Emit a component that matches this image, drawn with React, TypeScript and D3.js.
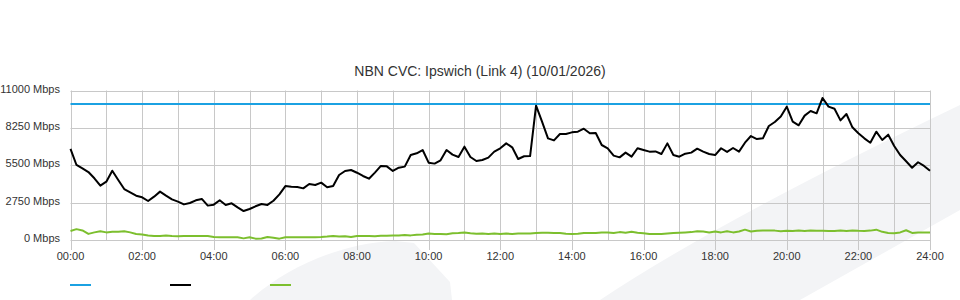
import React from "react";
import * as d3 from "d3";

const title = "NBN CVC: Ipswich (Link 4) (10/01/2026)";
const stepMinutes = 10;
const capacity = 10000;
const yTicks = [0, 2750, 5500, 8250, 11000];
const xTickHours = [0, 2, 4, 6, 8, 10, 12, 14, 16, 18, 20, 22, 24];
const xTickLabels = ["00:00", "02:00", "04:00", "06:00", "08:00", "10:00", "12:00", "14:00", "16:00", "18:00", "20:00", "22:00", "24:00"];
const gridHours = d3.range(0, 25);

const traffic = [
  6700, 5520, 5270, 5000, 4540, 4000, 4290, 5100, 4420, 3750, 3510, 3260,
  3140, 2870, 3190, 3560, 3260, 2990, 2820, 2620, 2720, 2920, 3020, 2530,
  2600, 2920, 2580, 2700, 2400, 2130, 2280, 2480, 2650, 2580, 2890, 3360,
  3970, 3920, 3900, 3800, 4120, 4050, 4220, 3880, 3970, 4780, 5080, 5150,
  4950, 4710, 4510, 4960, 5450, 5420, 5080, 5320, 5400, 6250, 6380, 6620,
  5690, 5620, 5860, 6620, 6280, 6110, 6870, 6110, 5810, 5890, 6060, 6500,
  6750, 7110, 6820, 5960, 6160, 6180, 9880, 8710, 7480, 7330, 7800, 7800,
  7920, 7970, 8190, 7850, 7870, 6990, 6750, 6210, 6080, 6430, 6130, 6750,
  6620, 6500, 6520, 6330, 7110, 6250, 6130, 6350, 6430, 6720, 6500, 6330,
  6250, 6750, 6480, 6770, 6500, 7160, 7650, 7430, 7480, 8390, 8680, 9080,
  9810, 8710, 8440, 9150, 9490, 9320, 10450, 9810, 9660, 8800, 9270, 8290,
  7850, 7480, 7160, 7970, 7360, 7750, 6920, 6250, 5790, 5320, 5720, 5450,
  5100,
];

const upload = [
  660, 800, 700, 450, 560, 640, 560, 600, 600, 640, 560, 440,
  400, 330, 300, 290, 330, 300, 280, 300, 300, 300, 290, 290,
  220, 200, 200, 200, 200, 120, 200, 100, 110, 220, 170, 100,
  200, 200, 200, 200, 200, 200, 220, 250, 300, 250, 280, 220,
  300, 300, 290, 280, 320, 320, 330, 340, 360, 340, 380, 400,
  470, 440, 440, 430, 490, 520, 560, 500, 460, 470, 450, 480,
  440, 470, 450, 470, 480, 480, 520, 540, 530, 520, 520, 460,
  450, 460, 520, 510, 520, 550, 560, 510, 580, 540, 600, 540,
  500, 440, 450, 440, 480, 520, 540, 560, 580, 640, 620, 560,
  620, 560, 640, 560, 620, 760, 620, 680, 700, 690, 690, 640,
  680, 660, 690, 660, 690, 680, 680, 660, 670, 700, 670, 700,
  680, 670, 690, 760, 600, 520, 500, 560, 720, 520, 560, 560,
  560,
];

const legendColors = ["#1ba1e2", "#000000", "#7cbf2e"];

const W = 960;
const H = 300;
const font = "'Liberation Sans', Arial, sans-serif";
const gridColor = "#c8c8c8";
const textColor = "#333";

export default function App() {
  const x = d3.scaleLinear().domain([0, 24]).range([70.5, 930]);
  const y = d3.scaleLinear().domain([0, 11000]).range([240, 90.5]);
  const hourOf = (i: number) => (i * stepMinutes) / 60;

  const line = d3
    .line<number>()
    .x((_, i) => x(hourOf(i)))
    .y((d) => y(d));

  const [x0, x1] = x.range();
  const [yb, yt] = y.range();

  return (
    <svg
      width={W}
      height={H}
      style={{ position: "absolute", left: 0, top: 0, background: "#fff" }}
      fontFamily={font}
    >
      {/* watermark shapes */}
      <path d="M250,300 C285,268 340,243 395,241 L414,243 L450,282 L452,300 Z" fill="#f3f4f6" />
      <path d="M600,300 Q720,220 960,105 L960,210 L800,300 Z" fill="#f3f4f6" />

      <text x={480} y={76} textAnchor="middle" fontSize={14} fill={textColor}>
        {title}
      </text>

      {/* grid */}
      {yTicks.map((t) => (
        <line key={"h" + t} x1={x0} x2={x1} y1={Math.round(y(t)) + 0.5} y2={Math.round(y(t)) + 0.5} stroke={gridColor} strokeWidth={1} />
      ))}
      {gridHours.map((h) => (
        <line key={"v" + h} x1={Math.round(x(h)) + 0.5} x2={Math.round(x(h)) + 0.5} y1={yt} y2={yb} stroke={gridColor} strokeWidth={1} />
      ))}
      {xTickHours.map((h) => (
        <line key={"t" + h} x1={Math.round(x(h)) + 0.5} x2={Math.round(x(h)) + 0.5} y1={yb} y2={yb + 10} stroke={gridColor} strokeWidth={1} />
      ))}

      {/* y labels */}
      {yTicks.map((t) => (
        <text key={"yl" + t} x={60} y={y(t) + 2} textAnchor="end" fontSize={11} fill={textColor}>
          {t + " Mbps"}
        </text>
      ))}
      {/* x labels */}
      {xTickHours.map((h, i) => (
        <text key={"xl" + h} x={x(h)} y={260} textAnchor="middle" fontSize={11} fill={textColor}>
          {xTickLabels[i]}
        </text>
      ))}

      {/* series */}
      <line x1={x0} x2={x1} y1={y(capacity)} y2={y(capacity)} stroke={legendColors[0]} strokeWidth={2} />
      <path d={line(upload) || ""} fill="none" stroke={legendColors[2]} strokeWidth={2} strokeLinejoin="round" />
      <path d={line(traffic) || ""} fill="none" stroke={legendColors[1]} strokeWidth={2} strokeLinejoin="round" />

      {/* legend */}
      {legendColors.map((c, i) => (
        <line key={"lg" + i} x1={70 + i * 100} x2={91 + i * 100} y1={285} y2={285} stroke={c} strokeWidth={2} />
      ))}
    </svg>
  );
}
